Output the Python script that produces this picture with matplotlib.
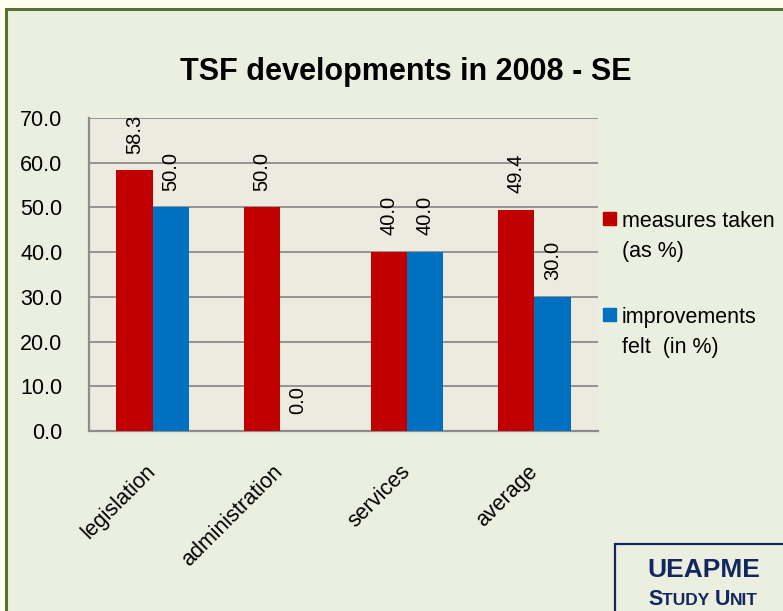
import matplotlib
matplotlib.use("Agg")
import matplotlib.pyplot as plt
import numpy as np
from matplotlib.patches import Rectangle
from matplotlib import font_manager

# data
categories = ["legislation", "administration", "services", "average"]
measures_taken = [58.3, 50.0, 40.0, 49.4]
improvements_felt = [50.0, 0.0, 40.0, 30.0]
legend_labels = [["measures taken", "(as %)"], ["improvements", "felt  (in %)"]]
title = "TSF developments in 2008 - SE"

RED = "#C00000"
BLUE = "#0070C0"
NAVY = "#12275F"
GRID = "#8C8C8C"

W, H = 783, 611

names = {f.name for f in font_manager.fontManager.ttflist}
has_narrow = "Liberation Sans Narrow" in names
BASE = "Liberation Sans"
NARROW = "Liberation Sans Narrow" if has_narrow else BASE

plt.rcParams["font.family"] = BASE


def fx(px):
    return px / W


def fy(py):
    return 1 - py / H


fig = plt.figure(figsize=(W / 100, H / 100), dpi=100, facecolor="#FFFFF0")

# outer frame of the slide
fig.patches.append(Rectangle((fx(6.3), -0.1), 1.2, fy(8.6) + 0.1, transform=fig.transFigure,
                             facecolor="#EBEFDF", edgecolor="#5B7032", linewidth=2.2, zorder=-5))

ax = fig.add_axes([fx(89), fy(431), fx(598) - fx(89), fy(118) - fy(431)])
ax.set_facecolor("#EDEBE0")
ax.set_zorder(1)

x = np.arange(len(categories))
width = 0.285
b1 = ax.bar(x - width / 2, measures_taken, width, color=RED, zorder=3)
b2 = ax.bar(x + width / 2, improvements_felt, width, color=BLUE, zorder=3)

lab_size = 14.5
ax.bar_label(b1, fmt="%.1f", rotation=90, padding=12, fontsize=lab_size)
ax.bar_label(b2, fmt="%.1f", rotation=90, padding=12, fontsize=lab_size)

ax.set_xlim(-0.5, len(categories) - 0.5)
ax.set_ylim(0, 70)
ax.set_yticks(np.arange(0, 71, 10))
ax.set_yticklabels([f"{v:.1f}" for v in np.arange(0, 71, 10)],
                   family=NARROW, fontsize=18 if has_narrow else 15.5)
ax.yaxis.grid(True, color=GRID, linewidth=1.3, zorder=0)
ax.set_axisbelow(True)

ax.set_xticks(x)
ax.set_xticklabels(categories, rotation=45, ha="right", va="center",
                   rotation_mode="anchor", fontsize=15.5)
ax.tick_params(axis="x", length=0, pad=27)
ax.tick_params(axis="y", length=0, pad=19)

for s in ["top", "right"]:
    ax.spines[s].set_visible(False)
for s in ["left", "bottom"]:
    ax.spines[s].set_color(GRID)
    ax.spines[s].set_linewidth(1.6)

# title
fig.text(fx(406), fy(80), title, ha="center", va="baseline", fontweight="bold",
         family=NARROW, fontsize=27 if has_narrow else 22)

# legend, drawn by hand so the squares sit next to the first line
leg_colors = [RED, BLUE]
first_base = [227, 323]
for lines, col, yb in zip(legend_labels, leg_colors, first_base):
    fig.patches.append(Rectangle((fx(603), fy(yb - 2)), fx(13), 13 / H,
                                 transform=fig.transFigure, color=col))
    for i, line in enumerate(lines):
        fig.text(fx(622), fy(yb + i * 30.5), line, ha="left", va="baseline", fontsize=15.5)

# UEAPME badge
fig.patches.append(Rectangle((fx(615), -0.1), 1, fy(544) + 0.1, transform=fig.transFigure,
                             facecolor="none", edgecolor=NAVY, linewidth=1.6, zorder=2))
fig.text(fx(704), fy(577), "UEAPME", ha="center", va="baseline", fontweight="bold",
         fontsize=19, color=NAVY)

pieces = [("S", 15.5), ("TUDY ", 12.5), ("U", 15.5), ("NIT", 12.5)]
renderer = fig.canvas.get_renderer()
texts = []
for s, size in pieces:
    t = fig.text(0, fy(605), s, ha="left", va="baseline", fontweight="bold",
                 fontsize=size, color=NAVY)
    texts.append(t)
widths = [t.get_window_extent(renderer).width for t in texts]
start = 703 - sum(widths) / 2
for t, w in zip(texts, widths):
    t.set_x(fx(start))
    start += w

fig.savefig("out.png", dpi=100, facecolor=fig.get_facecolor())
